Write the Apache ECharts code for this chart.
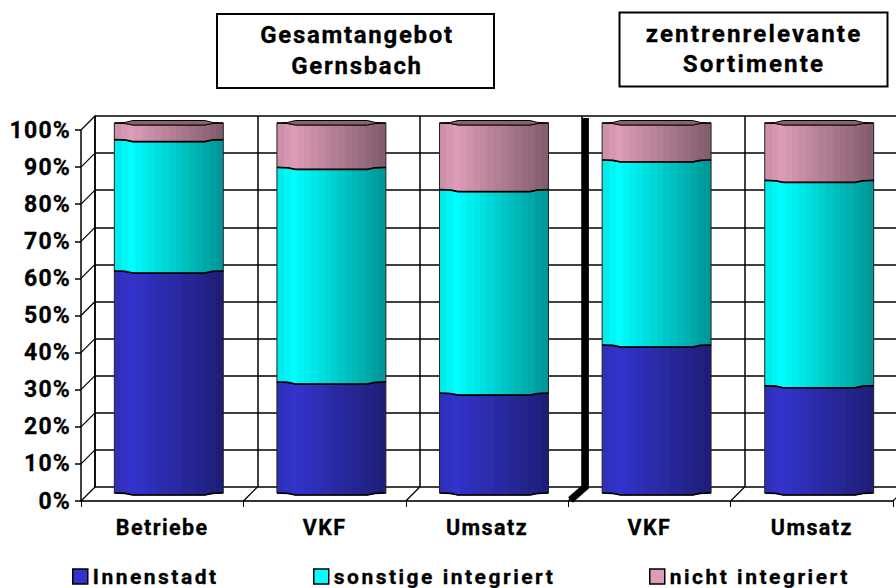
<!DOCTYPE html>
<html><head><meta charset="utf-8">
<style>html,body{margin:0;padding:0;background:#fff;overflow:hidden;width:896px;height:588px}#c{width:940px;height:588px}
svg text{stroke:#000;stroke-width:.3px;paint-order:stroke}
svg text[style*="21.5px"]{letter-spacing:1.4px}
svg text[style*="23px"]{letter-spacing:1.2px}
svg text[style*="21px"]{letter-spacing:2.5px}
svg text[style*="24px"]{letter-spacing:1.7px}
svg text[style*="24.2px"]{letter-spacing:2.1px}
</style>
<script src="https://cdn.jsdelivr.net/npm/echarts@6/dist/echarts.min.js"></script>
</head><body><div id="c"></div>
<script>
const categories = ['Betriebe','VKF','Umsatz','VKF','Umsatz'];
const innenstadt = [60, 30, 27, 40, 29];
const sonstige = [35.5, 58, 55, 50, 55.5];
const nicht = [4.5, 12, 18, 10, 15.5];
const tickValues = [0,10,20,30,40,50,60,70,80,90,100];
const seriesNames = ['Innenstadt','sonstige integriert','nicht integriert'];
const titleOne = 'Gesamtangebot\nGernsbach';
const titleTwo = 'zentrenrelevante\nSortimente';

const FONT = 'Roboto';
const depth = 14;
const shades = [
  {base:[51,51,204], legend:'#3333CC'},
  {base:[0,255,255], legend:'#00FFFF'},
  {base:[221,156,184], legend:'#DD9CB8'}
];
function rgb(c,f){return 'rgb('+c.map(v=>Math.round(v*f)).join(',')+')';}
function banded(c){
  const n=16, stops=[];
  for(let i=0;i<n;i++){
    const t=(i+0.5)/n;
    const f=t<0.15?0.9+0.1*t/0.15:1-0.42*(t-0.15)/0.85;
    stops.push({offset:i/n,color:rgb(c,f)},{offset:(i+1)/n,color:rgb(c,f)});
  }
  return {type:'linear',x:0,y:0,x2:1,y2:0,colorStops:stops};
}
function edge(x0,x1,y,w,r,dir){
  const a=w*0.1,b=w*0.17;
  const p=[[x0,y],[x0+a,y+r*0.2],[x0+b,y+r],[x1-b,y+r],[x1-a,y+r*0.2],[x1,y]];
  return dir<0?p.reverse():p;
}
function segmentRender(si,isTop){
  return function(params,api){
    const cat=api.value(0), lo=api.value(1), hi=api.value(2);
    const a=api.coord([cat,lo]), b=api.coord([cat,hi]);
    const w=api.size([1,0])[0]*0.67, x0=a[0]-w/2, x1=a[0]+w/2, r=2;
    const body=edge(x0,x1,b[1],w,r,1).concat(edge(x0,x1,a[1],w,r,-1));
    const kids=[
      {type:'polygon',shape:{points:body},style:{fill:banded(shades[si].base),stroke:'#222',lineWidth:1}},
      {type:'polyline',shape:{points:edge(x0,x1,a[1],w,r,1)},style:{stroke:'#000',lineWidth:1.6,fill:null}}
    ];
    if(isTop){
      const aw=w*0.1,bw=w*0.17;
      kids.push({type:'polygon',shape:{points:[[x0,b[1]],[x0+aw,b[1]-0.6],[x0+bw,b[1]-r-.5],[x1-bw,b[1]-r-.5],[x1-aw,b[1]-0.6],[x1,b[1]],[x1-aw,b[1]+0.6],[x1-bw,b[1]+r],[x0+bw,b[1]+r],[x0+aw,b[1]+0.6]]},
        style:{fill:rgb(shades[si].base,0.62),stroke:'#000',lineWidth:1}});
    }
    return {type:'group',children:kids};
  };
}
function stacked(){
  return categories.map((_,i)=>{
    const a=innenstadt[i], b=a+sonstige[i], c=b+nicht[i];
    return [[i,0,a],[i,a,b],[i,b,c]];
  });
}
const rows=stacked();
const lineStyle={color:'#000',width:1.5};

function catAxis(g,show,extra){
  return Object.assign({type:'category',gridIndex:g,data:categories,boundaryGap:true,
    axisLine:{show:false},axisTick:{show:false},axisLabel:{show:false},splitLine:{show:false}},extra||{});
}
function valAxis(g,extra){
  return Object.assign({type:'value',gridIndex:g,min:0,max:100,interval:10,
    axisLine:{show:false},axisTick:{show:false},axisLabel:{show:false},splitLine:{show:false}},extra||{});
}

const option={
  animation:false,
  backgroundColor:'#fff',
  grid:[
    {left:81,top:130,width:812,height:371},
    {left:95,top:116,width:812,height:371},
    {left:87.5,top:123,width:813,height:370}
  ],
  xAxis:[
    catAxis(0,true,{axisLine:{show:true,onZero:false,lineStyle:{color:'#333',width:2}},
      axisTick:{show:true,length:6,alignWithLabel:false,lineStyle:{color:'#000',width:1}},
      axisLabel:{show:true,interval:0,margin:15,color:'#000',fontFamily:FONT,fontWeight:'bold',fontSize:21.5}}),
    catAxis(1,false,{splitLine:{show:true,interval:0,lineStyle:lineStyle},axisLine:{show:false}}),
    catAxis(2,false)
  ],
  yAxis:[
    valAxis(0,{axisLine:{show:true,lineStyle:{color:'#000',width:1.5}},
      axisTick:{show:true,length:6,lineStyle:{color:'#000',width:1.5}},
      axisLabel:{show:true,margin:10,color:'#000',fontFamily:FONT,fontWeight:'bold',fontSize:23,formatter:'{value}%'}}),
    valAxis(1,{splitLine:{show:true,lineStyle:lineStyle},axisLine:{show:true,lineStyle:lineStyle}}),
    valAxis(2)
  ],
  legend:seriesNames.map((n,i)=>({
    data:[n],left:[67,308,644][i],top:561,itemWidth:15,itemHeight:15,icon:'rect',
    itemStyle:{borderColor:'#000',borderWidth:1.5},
    textStyle:{color:'#000',fontFamily:FONT,fontWeight:'bold',fontSize:21}
  })),
  graphic:[
    {type:'group',left:216,top:13,children:[
      {type:'rect',shape:{x:0,y:0,width:277,height:74},style:{fill:'#fff',stroke:'#000',lineWidth:2}},
      {type:'text',x:140,y:36,style:{text:titleOne,fill:'#000',font:'bold 24px '+FONT,align:'center',verticalAlign:'middle',lineHeight:31}}
    ]},
    {type:'group',left:618.5,top:11.5,children:[
      {type:'rect',shape:{x:0,y:0,width:268,height:74},style:{fill:'#fff',stroke:'#000',lineWidth:2}},
      {type:'text',x:134.5,y:36,style:{text:titleTwo,fill:'#000',font:'bold 24.2px '+FONT,align:'center',verticalAlign:'middle',lineHeight:30}}
    ]}
  ],
  series:[
    {type:'custom',name:'wall',xAxisIndex:0,yAxisIndex:0,silent:true,z:1,clip:false,
      data:tickValues.map(v=>[0,v]),
      renderItem(p,api){
        const c=api.coord([0,api.value(1)]), x=c[0]-api.size([1,0])[0]/2;
        return {type:'line',shape:{x1:x,y1:c[1],x2:x+depth,y2:c[1]-depth},style:{stroke:'#000',lineWidth:1.2}};
      }},
    {type:'custom',name:'floor',xAxisIndex:0,yAxisIndex:0,silent:true,z:1,clip:false,
      data:categories.map((_,i)=>[i,0]),
      renderItem(p,api){
        const c=api.coord([api.value(0),0]), x=c[0]+api.size([1,0])[0]/2;
        return {type:'line',shape:{x1:x,y1:c[1],x2:x+depth,y2:c[1]-depth},style:{stroke:'#000',lineWidth:1.2}};
      }},
    {type:'custom',name:'divider',xAxisIndex:1,yAxisIndex:1,silent:true,z:3,clip:false,
      data:[[3,0,100]],
      renderItem(p,api){
        const b=api.coord([api.value(0),api.value(1)]), t=api.coord([api.value(0),api.value(2)]);
        const x=b[0]-api.size([1,0])[0]/2+3.2;
        return {type:'polyline',shape:{points:[[x,t[1]+2],[x,b[1]],[x-depth-1,b[1]+depth-1]]},style:{stroke:'#000',lineWidth:7,fill:null}};
      }},
    ...seriesNames.map((n,si)=>({
      type:'custom',name:n,xAxisIndex:2,yAxisIndex:2,z:5,clip:false,
      itemStyle:{color:shades[si].legend},
      encode:{x:0,y:[1,2]},
      data:rows.map(r=>r[si]),
      renderItem:segmentRender(si,si===2)
    }))
  ]
};
const chart=echarts.init(document.getElementById('c'),null,{renderer:'svg'});
chart.setOption(option);
</script></body></html>
